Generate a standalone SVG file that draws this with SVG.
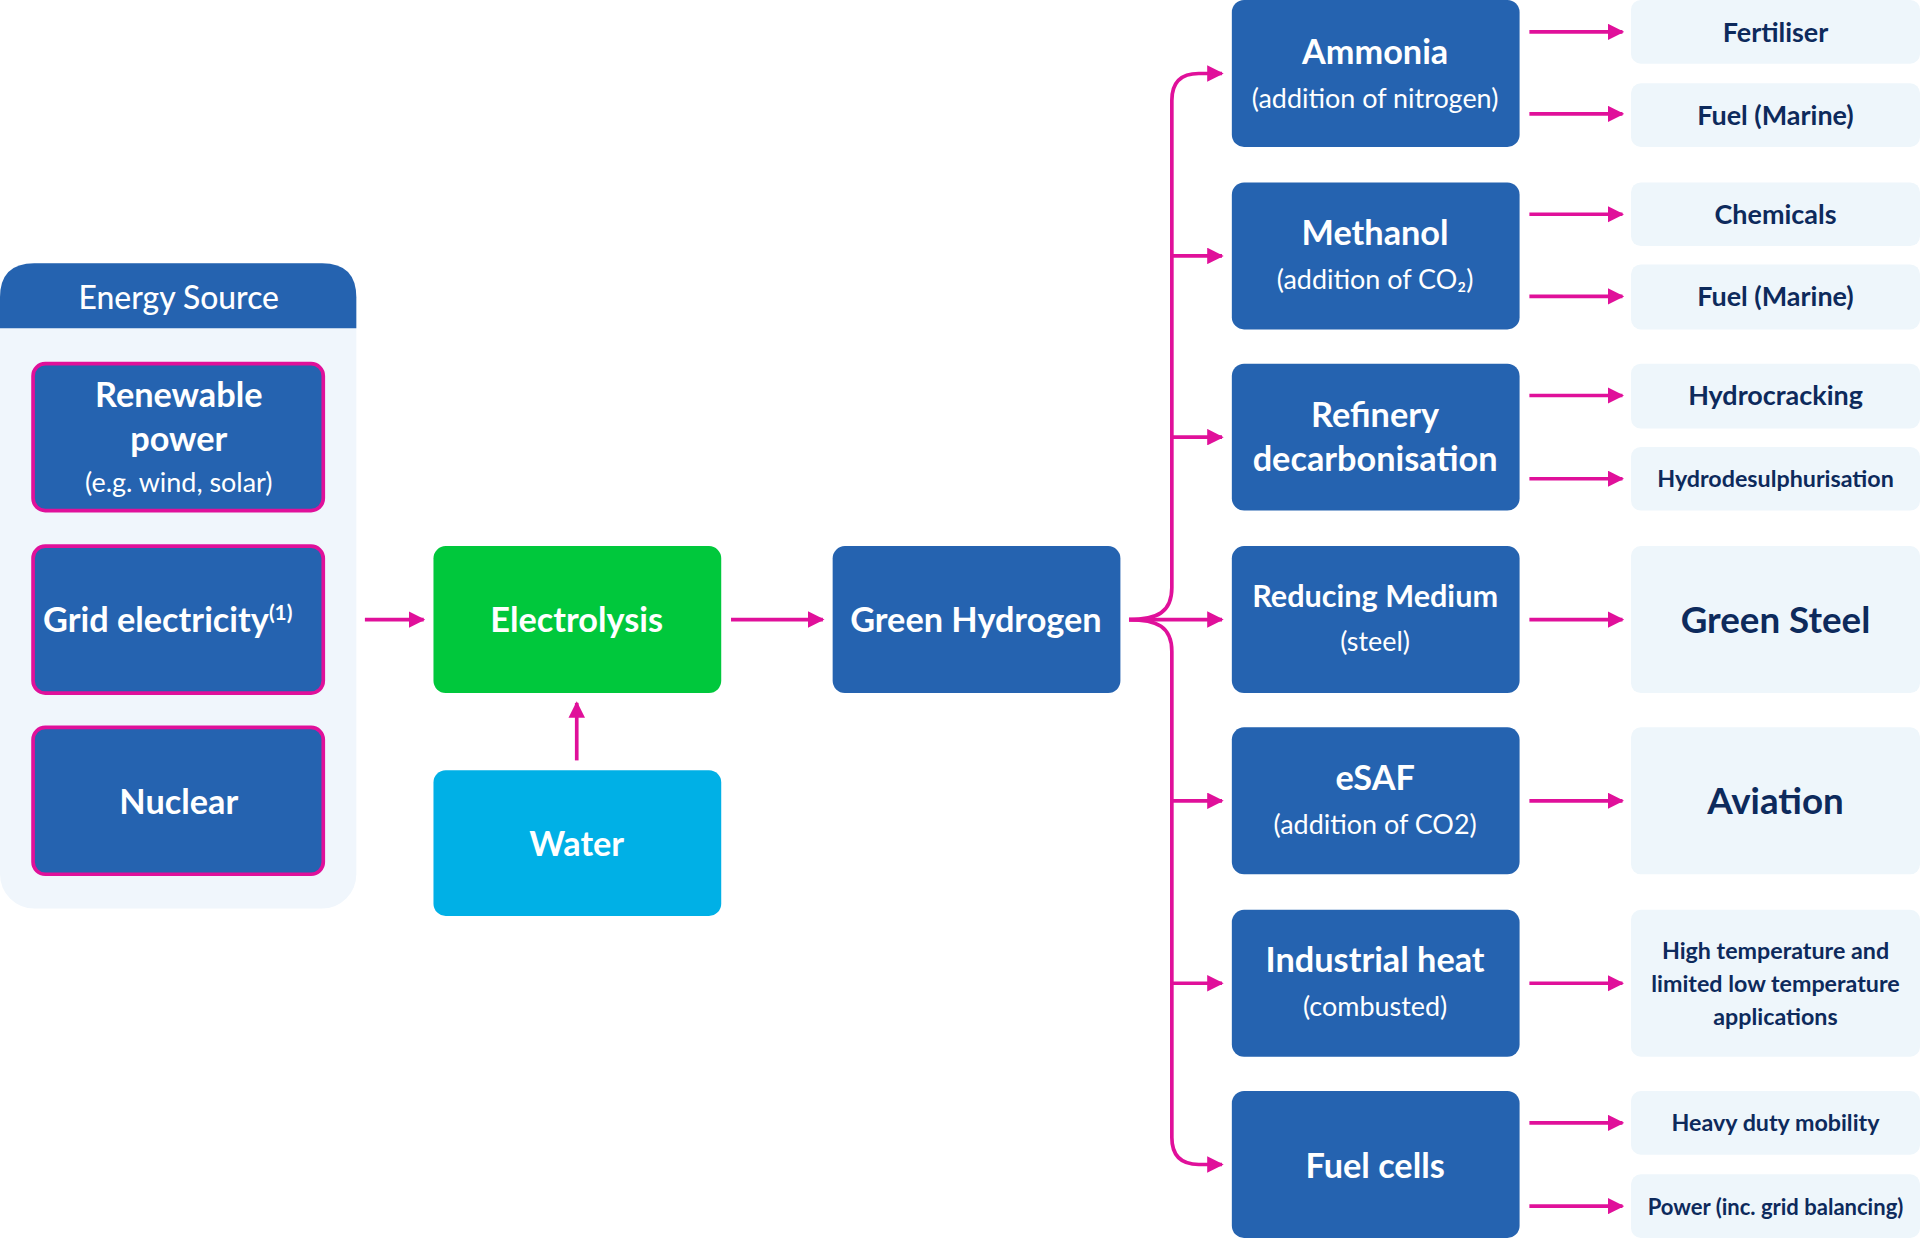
<svg xmlns="http://www.w3.org/2000/svg" width="1920" height="1239" viewBox="0 0 1920 1239">
<style>
.b{fill:#2563b0}.s{stroke:#e0109a;stroke-width:3}.o{fill:#eef6fb}
text{font-family:Lato,"Noto Sans",sans-serif;text-anchor:middle}
.t{fill:#fff;font-weight:700;font-size:28px}.st{fill:#fff;font-size:22px}
.d{fill:#0d2a5c;font-weight:700;font-size:22px}.D{fill:#0d2a5c;font-weight:700;font-size:30px}
.c path,.c line{stroke:#e0109a;stroke-width:3;fill:none}
</style>
<defs><marker id="a" viewBox="0 0 10 10" refX="9" refY="5" markerWidth="4.5" markerHeight="4.5" orient="auto"><path d="M0,0L10,5L0,10z" fill="#e0109a"/></marker></defs>
<rect width="1920" height="1239" fill="#fff"/>
<g transform="scale(1.22449)">
<g id="energy">
<rect x="0" y="215" width="291" height="527" rx="28" fill="#f0f6fc"/>
<path d="M0,268V243Q0,215 28,215H263Q291,215 291,243V268Z" class="b"/>
<text x="146" y="252" class="st" style="font-size:26px;font-weight:500">Energy Source</text>
</g>
<g id="renewable"><rect x="27" y="297" width="237" height="120" rx="10" class="b s"/>
<text x="146" y="332" class="t">Renewable</text><text x="146" y="368" class="t">power</text><text x="146" y="402" class="st">(e.g. wind, solar)</text></g>
<g id="grid"><rect x="27" y="446" width="237" height="120" rx="10" class="b s"/>
<text x="137" y="516" class="t">Grid electricity<tspan dy="-10" font-size="17">(1)</tspan></text></g>
<g id="nuclear"><rect x="27" y="594" width="237" height="120" rx="10" class="b s"/>
<text x="146" y="665" class="t">Nuclear</text></g>
<g id="electrolysis"><rect x="354" y="446" width="235" height="120" rx="10" fill="#00c83c"/><text x="471" y="516" class="t">Electrolysis</text></g>
<g id="water"><rect x="354" y="629" width="235" height="119" rx="10" fill="#00b0e6"/><text x="471" y="699" class="t">Water</text></g>
<g id="hydrogen"><rect x="680" y="446" width="235" height="120" rx="10" class="b"/><text x="797" y="516" class="t">Green Hydrogen</text></g>
<g id="ammonia"><rect x="1006" y="0" width="235" height="120" rx="10" class="b"/><text x="1123" y="52" class="t">Ammonia</text><text x="1123" y="88" class="st">(addition of nitrogen)</text></g>
<g id="methanol"><rect x="1006" y="149" width="235" height="120" rx="10" class="b"/><text x="1123" y="200" class="t">Methanol</text><text x="1123" y="236" class="st">(addition of CO₂)</text></g>
<g id="refinery"><rect x="1006" y="297" width="235" height="120" rx="10" class="b"/><text x="1123" y="349" class="t">Refinery</text><text x="1123" y="385" class="t">decarbonisation</text></g>
<g id="reducing"><rect x="1006" y="446" width="235" height="120" rx="10" class="b"/><text x="1123" y="496" class="t" style="font-size:25px">Reducing Medium</text><text x="1123" y="532" class="st">(steel)</text></g>
<g id="esaf"><rect x="1006" y="594" width="235" height="120" rx="10" class="b"/><text x="1123" y="645" class="t">eSAF</text><text x="1123" y="681" class="st">(addition of CO2)</text></g>
<g id="heat"><rect x="1006" y="743" width="235" height="120" rx="10" class="b"/><text x="1123" y="794" class="t">Industrial heat</text><text x="1123" y="830" class="st">(combusted)</text></g>
<g id="fuelcells"><rect x="1006" y="891" width="235" height="120" rx="10" class="b"/><text x="1123" y="962" class="t">Fuel cells</text></g>
<g id="outcomes">
<rect x="1332" y="0" width="236" height="52" rx="8" class="o"/><text x="1450" y="34" class="d">Fertiliser</text>
<rect x="1332" y="68" width="236" height="52" rx="8" class="o"/><text x="1450" y="102" class="d">Fuel (Marine)</text>
<rect x="1332" y="149" width="236" height="52" rx="8" class="o"/><text x="1450" y="183" class="d">Chemicals</text>
<rect x="1332" y="216" width="236" height="53" rx="8" class="o"/><text x="1450" y="250" class="d">Fuel (Marine)</text>
<rect x="1332" y="297" width="236" height="53" rx="8" class="o"/><text x="1450" y="331" class="d">Hydrocracking</text>
<rect x="1332" y="365" width="236" height="52" rx="8" class="o"/><text x="1450" y="398" class="d" style="font-size:19px">Hydrodesulphurisation</text>
<rect x="1332" y="446" width="236" height="120" rx="8" class="o"/><text x="1450" y="517" class="D">Green Steel</text>
<rect x="1332" y="594" width="236" height="120" rx="8" class="o"/><text x="1450" y="665" class="D">Aviation</text>
<rect x="1332" y="743" width="236" height="120" rx="8" class="o"/>
<text x="1450" y="783" class="d" style="font-size:19px">High temperature and</text><text x="1450" y="810" class="d" style="font-size:19px">limited low temperature</text><text x="1450" y="837" class="d" style="font-size:19px">applications</text>
<rect x="1332" y="891" width="236" height="52" rx="8" class="o"/><text x="1450" y="924" class="d" style="font-size:19px">Heavy duty mobility</text>
<rect x="1332" y="959" width="236" height="52" rx="8" class="o"/><text x="1450" y="992" class="d" style="font-size:18px">Power (inc. grid balancing)</text>
</g>
<g class="c">
<line x1="298" y1="506" x2="346" y2="506" marker-end="url(#a)"/>
<line x1="597" y1="506" x2="672" y2="506" marker-end="url(#a)"/>
<line x1="471" y1="621" x2="471" y2="574" marker-end="url(#a)"/>
<path d="M922,506C945,506 957,500 957,480V82Q957,60 979,60H998" marker-end="url(#a)"/>
<path d="M922,506C945,506 957,512 957,532V929Q957,951 979,951H998" marker-end="url(#a)"/>
<line x1="922" y1="506" x2="998" y2="506" marker-end="url(#a)"/>
<line x1="957" y1="209" x2="998" y2="209" marker-end="url(#a)"/>
<line x1="957" y1="357" x2="998" y2="357" marker-end="url(#a)"/>
<line x1="957" y1="654" x2="998" y2="654" marker-end="url(#a)"/>
<line x1="957" y1="803" x2="998" y2="803" marker-end="url(#a)"/>
<line x1="1249" y1="26" x2="1325" y2="26" marker-end="url(#a)"/>
<line x1="1249" y1="93" x2="1325" y2="93" marker-end="url(#a)"/>
<line x1="1249" y1="175" x2="1325" y2="175" marker-end="url(#a)"/>
<line x1="1249" y1="242" x2="1325" y2="242" marker-end="url(#a)"/>
<line x1="1249" y1="323" x2="1325" y2="323" marker-end="url(#a)"/>
<line x1="1249" y1="391" x2="1325" y2="391" marker-end="url(#a)"/>
<line x1="1249" y1="506" x2="1325" y2="506" marker-end="url(#a)"/>
<line x1="1249" y1="654" x2="1325" y2="654" marker-end="url(#a)"/>
<line x1="1249" y1="803" x2="1325" y2="803" marker-end="url(#a)"/>
<line x1="1249" y1="917" x2="1325" y2="917" marker-end="url(#a)"/>
<line x1="1249" y1="985" x2="1325" y2="985" marker-end="url(#a)"/>
</g>
</g>
</svg>
